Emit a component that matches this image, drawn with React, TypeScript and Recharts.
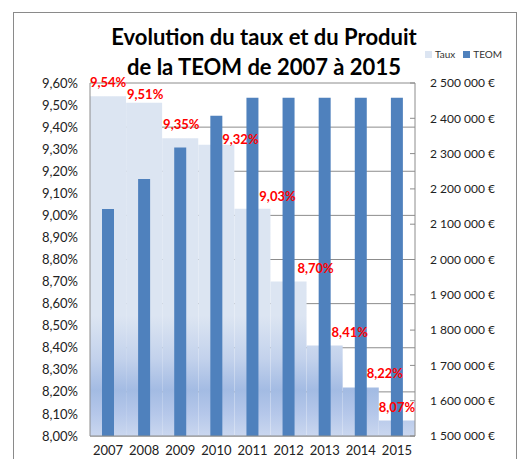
import {
  ComposedChart,
  Bar,
  Line,
  XAxis,
  YAxis,
  CartesianGrid,
  LabelList,
} from 'recharts';

const YEARS = ['2007', '2008', '2009', '2010', '2011', '2012', '2013', '2014', '2015'];
const TAUX = [9.54, 9.51, 9.35, 9.32, 9.03, 8.7, 8.41, 8.22, 8.07];
const TEOM = [2143000, 2228000, 2317000, 2407000, 2458000, 2458000, 2458000, 2458000, 2458000];
const TAUX_TICKS = [8.0, 8.1, 8.2, 8.3, 8.4, 8.5, 8.6, 8.7, 8.8, 8.9, 9.0, 9.1, 9.2, 9.3, 9.4, 9.5, 9.6];
const TEOM_TICKS = [1500000, 1600000, 1700000, 1800000, 1900000, 2000000, 2100000, 2200000, 2300000, 2400000, 2500000];

// hand placed labels in the original, nudge them a bit
const LABEL_DX = [0, 1, 1, 24, 25, 27, 25, 24, 0];
const LABEL_DY = [-14, -9, -14, -6, -13, -14, -14, -14, -14];

const data = YEARS.map((year, i) => ({ year, taux: TAUX[i], teom: TEOM[i] }));

const LIGHT = '#DCE5F2';
const DARK = '#4F81BD';
const GRID = '#8C8C8C';

const fmtTaux = (v: number) => v.toFixed(2).replace('.', ',') + '%';
const fmtTeom = (v: number) =>
  String(Math.round(v)).replace(/\B(?=(\d{3})+(?!\d))/g, ' ') + ' €';

function TauxLabel(props: any) {
  const { x, y, value, index } = props;
  return (
    <text
      x={x + LABEL_DX[index]}
      y={y + LABEL_DY[index]}
      textAnchor="middle"
      dominantBaseline="central"
      fill="#FF0000"
      fontWeight={700}
      fontSize={13}
    >
      {fmtTaux(value)}
    </text>
  );
}

export default function App() {
  return (
    <div
      style={{
        position: 'absolute',
        left: 0,
        top: 0,
        width: 517,
        height: 459,
        overflow: 'hidden',
        background: '#fff',
        fontFamily: 'Lato, sans-serif',
        color: '#222',
      }}
    >
      {/* outer frame */}
      <div
        style={{
          position: 'absolute',
          left: 13,
          top: 12,
          width: 502,
          height: 470,
          border: '1px solid #8A8A8A',
        }}
      />

      {/* Title */}
      <div
        style={{
          position: 'absolute',
          left: 64,
          top: 22,
          width: 400,
          textAlign: 'center',
          fontWeight: 700,
          fontSize: 22,
          lineHeight: '30px',
          color: '#000',
        }}
      >
        Evolution du taux et du Produit
        <br />
        de la TEOM de 2007 à 2015
      </div>

      {/* Legend */}
      <div
        style={{
          position: 'absolute',
          left: 425,
          top: 48,
          display: 'flex',
          alignItems: 'center',
          fontSize: 10,
          color: '#333',
        }}
      >
        <span style={{ width: 7, height: 7, background: LIGHT, marginRight: 3 }} />
        <span style={{ marginRight: 8 }}>Taux</span>
        <span style={{ width: 7, height: 7, background: DARK, marginRight: 3 }} />
        <span>TEOM</span>
      </div>

      <div style={{ position: 'absolute', left: 0, top: 0 }}>
        <ComposedChart
          width={517}
          height={459}
          data={data}
          margin={{ top: 83, right: 12, left: 10, bottom: 0 }}
          barCategoryGap={0}
          barGap={0}
        >
          <defs>
            <linearGradient id="tauxFill" gradientUnits="userSpaceOnUse" x1="0" y1="83" x2="0" y2="436">
              <stop offset="0" stopColor={LIGHT} />
              <stop offset="0.66" stopColor={LIGHT} />
              <stop offset="0.78" stopColor="#C3D2EC" />
              <stop offset="0.87" stopColor="#A3BBE3" />
              <stop offset="0.94" stopColor="#B6C8EA" />
              <stop offset="1" stopColor="#CAD7EF" />
            </linearGradient>
          </defs>
          <CartesianGrid yAxisId="taux" vertical={false} stroke={GRID} />
          <XAxis
            xAxisId="a"
            dataKey="year"
            height={23}
            axisLine={{ stroke: GRID }}
            tickLine={false}
            tickSize={0}
            tickMargin={10}
            tick={{ fill: '#222', fontSize: 13 }}
            interval={0}
          />
          <XAxis xAxisId="b" dataKey="year" hide />
          <YAxis
            yAxisId="taux"
            width={80}
            domain={[8, 9.6]}
            ticks={TAUX_TICKS}
            tickFormatter={fmtTaux}
            axisLine={{ stroke: GRID }}
            tickLine={false}
            tickSize={0}
            tickMargin={12}
            tick={{ fill: '#222', fontSize: 13 }}
            allowDataOverflow
          />
          <YAxis
            yAxisId="teom"
            orientation="right"
            width={90}
            domain={[1500000, 2500000]}
            ticks={TEOM_TICKS}
            tickFormatter={fmtTeom}
            axisLine={{ stroke: GRID }}
            tickSize={5}
            tickLine={{ stroke: GRID, transform: 'translate(-5 0)' }}
            tickMargin={10}
            tick={{ fill: '#222', fontSize: 12 }}
            allowDataOverflow
          />
          <Bar
            xAxisId="a"
            yAxisId="taux"
            dataKey="taux"
            name="Taux"
            fill="url(#tauxFill)"
            isAnimationActive={false}
          />
          <Bar
            xAxisId="b"
            yAxisId="teom"
            dataKey="teom"
            name="TEOM"
            fill={DARK}
            barSize={12}
            isAnimationActive={false}
          />
          <Line
            xAxisId="a"
            yAxisId="taux"
            dataKey="taux"
            stroke="none"
            dot={false}
            activeDot={false}
            legendType="none"
            isAnimationActive={false}
          >
            <LabelList dataKey="taux" content={TauxLabel} />
          </Line>
        </ComposedChart>
      </div>
    </div>
  );
}
